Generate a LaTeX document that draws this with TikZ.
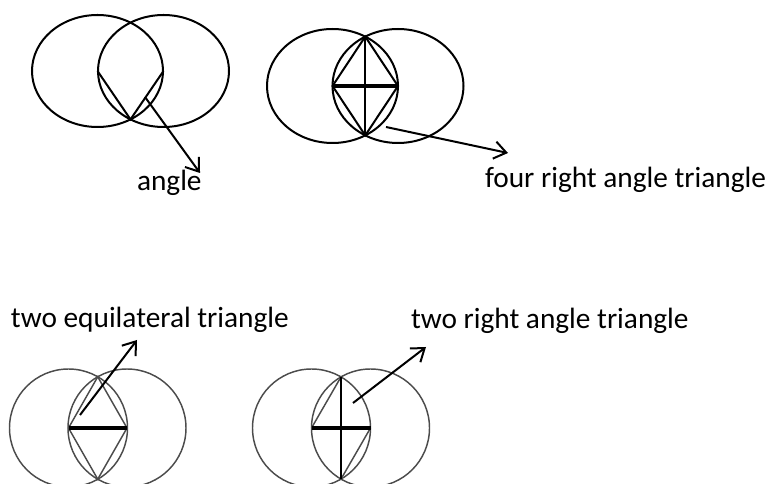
\documentclass[tikz,border=0pt]{standalone}
\usepackage{fontspec}
\setmainfont{Carlito}
\usetikzlibrary{arrows.meta}

\begin{document}
\begin{tikzpicture}[x=0.75pt, y=-0.75pt, line width=1.5pt,
	sketch/.style={black!70, line width=1.1pt},
	pointer/.style={-{Straight Barb[length=9pt,width=13pt]}},
	caption/.style={anchor=base west, inner sep=0pt, font=\fontsize{22}{26}\selectfont}]
	
	\useasboundingbox (0,0) rectangle (768,484);
	\clip (0,0) rectangle (768,484);
	
	% Top left: angle
	\coordinate (L1) at (97.5,71);
	\coordinate (R1) at (163.5,71);
	\coordinate (V1) at (130.5,119.4);
	\coordinate (P1) at (145,97);
	\coordinate (Q1) at (200,173);
	
	\draw (L1) ellipse [x radius=65.5, y radius=56];
	\draw (R1) ellipse [x radius=65.5, y radius=56];
	\draw (L1) -- (V1) -- (R1);
	\draw[pointer] (P1) -- (Q1);
	
	% Top right: four right angle triangle
	\coordinate (L2) at (332.5,86);
	\coordinate (R2) at (398,86);
	\coordinate (T2) at (365.25,36.6);
	\coordinate (B2) at (365.25,135.4);
	\coordinate (P2) at (386,127);
	\coordinate (Q2) at (508,153);
	
	\draw (L2) ellipse [x radius=65.5, y radius=57];
	\draw (R2) ellipse [x radius=65.5, y radius=57];
	\draw (L2) -- (T2) -- (R2) -- (B2) -- cycle;
	\draw (T2) -- (B2);
	\draw[line width=2.4pt] (L2) -- (R2);
	\draw[pointer] (P2) -- (Q2);
	
	% Bottom left: two equilateral triangle
	\coordinate (L3) at (68.5,428);
	\coordinate (R3) at (127,428);
	\coordinate (T3) at (97.75,376.8);
	\coordinate (B3) at (97.75,479.2);
	\coordinate (P3) at (80,415);
	\coordinate (Q3) at (137,340);
	
	\draw[sketch] (L3) circle [radius=59];
	\draw[sketch] (R3) circle [radius=59];
	\draw[sketch] (L3) -- (T3) -- (R3) -- (B3) -- cycle;
	\draw[line width=2.4pt] (L3) -- (R3);
	\draw[pointer] (P3) -- (Q3);
	
	% Bottom right: two right angle triangle
	\coordinate (L4) at (311.5,428);
	\coordinate (R4) at (370.5,428);
	\coordinate (T4) at (341,376.9);
	\coordinate (B4) at (341,479.1);
	\coordinate (P4) at (353,403);
	\coordinate (Q4) at (426,347);
	
	\draw[sketch] (L4) circle [radius=59];
	\draw[sketch] (R4) circle [radius=59];
	\draw[sketch] (L4) -- (T4);
	\draw[sketch] (R4) -- (B4);
	\draw (T4) -- (B4);
	\draw[line width=2.4pt] (L4) -- (R4);
	\draw[pointer] (P4) -- (Q4);
	
	% Labels
	\node[caption] (angle) at (136,191) {angle};
	\node[caption] (four) at (484,188) {four right angle triangle};
	\node[caption] (equi) at (10,328) {two equilateral triangle};
	\node[caption] (right) at (410,329) {two right angle triangle};
	
\end{tikzpicture}
\end{document}
